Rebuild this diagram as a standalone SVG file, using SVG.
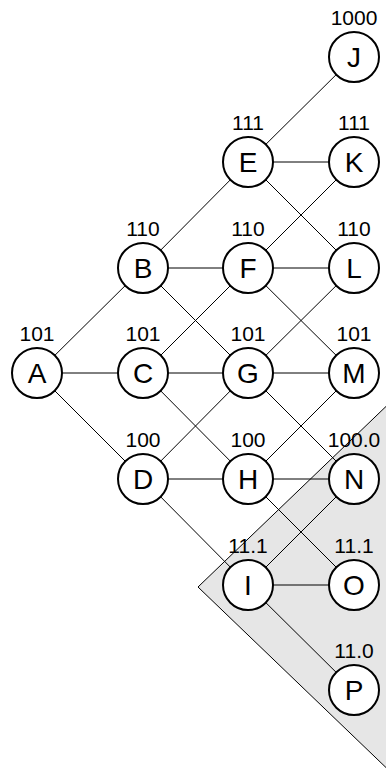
<svg xmlns="http://www.w3.org/2000/svg" width="386" height="770" viewBox="0 0 386 770">
<style>
.bg{fill:#fff}
.region{fill:#e6e6e6;stroke:#000;stroke-width:1}
.edge{stroke:#000;stroke-width:1;fill:none}
.node circle{fill:#fff;stroke:#000;stroke-width:2}
.lbl{font-family:"Liberation Sans",Arial,sans-serif;font-size:28px;text-anchor:middle;fill:#000}
.val{font-family:"Liberation Sans",Arial,sans-serif;font-size:21px;text-anchor:middle;fill:#000}
</style>
<rect class="bg" x="0" y="0" width="386" height="770"/>
<polygon class="region" points="198,587 400,393 400,781"/>
<g id="edges">
<line class="edge" x1="354" y1="57" x2="248" y2="162"/>
<line class="edge" x1="248" y1="162" x2="354" y2="162"/>
<line class="edge" x1="248" y1="162" x2="143" y2="268"/>
<line class="edge" x1="248" y1="162" x2="354" y2="268"/>
<line class="edge" x1="354" y1="162" x2="248" y2="268"/>
<line class="edge" x1="143" y1="268" x2="248" y2="268"/>
<line class="edge" x1="248" y1="268" x2="354" y2="268"/>
<line class="edge" x1="143" y1="268" x2="37" y2="373"/>
<line class="edge" x1="143" y1="268" x2="248" y2="373"/>
<line class="edge" x1="248" y1="268" x2="143" y2="373"/>
<line class="edge" x1="248" y1="268" x2="354" y2="373"/>
<line class="edge" x1="354" y1="268" x2="248" y2="373"/>
<line class="edge" x1="37" y1="373" x2="143" y2="373"/>
<line class="edge" x1="37" y1="373" x2="143" y2="479"/>
<line class="edge" x1="143" y1="373" x2="248" y2="373"/>
<line class="edge" x1="143" y1="373" x2="248" y2="479"/>
<line class="edge" x1="248" y1="373" x2="354" y2="373"/>
<line class="edge" x1="248" y1="373" x2="143" y2="479"/>
<line class="edge" x1="248" y1="373" x2="354" y2="479"/>
<line class="edge" x1="354" y1="373" x2="248" y2="479"/>
<line class="edge" x1="143" y1="479" x2="248" y2="479"/>
<line class="edge" x1="143" y1="479" x2="248" y2="585"/>
<line class="edge" x1="248" y1="479" x2="354" y2="479"/>
<line class="edge" x1="248" y1="479" x2="354" y2="585"/>
<line class="edge" x1="354" y1="479" x2="248" y2="585"/>
<line class="edge" x1="248" y1="585" x2="354" y2="585"/>
<line class="edge" x1="248" y1="585" x2="354" y2="690"/>
</g>
<g id="A" class="node"><circle cx="37" cy="373" r="25"/><text class="val" x="37" y="341">101</text><text class="lbl" x="37" y="383">A</text></g>
<g id="B" class="node"><circle cx="143" cy="268" r="25"/><text class="val" x="143" y="236">110</text><text class="lbl" x="143" y="278">B</text></g>
<g id="C" class="node"><circle cx="143" cy="373" r="25"/><text class="val" x="143" y="341">101</text><text class="lbl" x="143" y="383">C</text></g>
<g id="D" class="node"><circle cx="143" cy="479" r="25"/><text class="val" x="143" y="447">100</text><text class="lbl" x="143" y="489">D</text></g>
<g id="E" class="node"><circle cx="248" cy="162" r="25"/><text class="val" x="248" y="130">111</text><text class="lbl" x="248" y="172">E</text></g>
<g id="F" class="node"><circle cx="248" cy="268" r="25"/><text class="val" x="248" y="236">110</text><text class="lbl" x="248" y="278">F</text></g>
<g id="G" class="node"><circle cx="248" cy="373" r="25"/><text class="val" x="248" y="341">101</text><text class="lbl" x="248" y="383">G</text></g>
<g id="H" class="node"><circle cx="248" cy="479" r="25"/><text class="val" x="248" y="447">100</text><text class="lbl" x="248" y="489">H</text></g>
<g id="I" class="node"><circle cx="248" cy="585" r="25"/><text class="val" x="248" y="553">11.1</text><text class="lbl" x="248" y="595">I</text></g>
<g id="J" class="node"><circle cx="354" cy="57" r="25"/><text class="val" x="354" y="25">1000</text><text class="lbl" x="354" y="67">J</text></g>
<g id="K" class="node"><circle cx="354" cy="162" r="25"/><text class="val" x="354" y="130">111</text><text class="lbl" x="354" y="172">K</text></g>
<g id="L" class="node"><circle cx="354" cy="268" r="25"/><text class="val" x="354" y="236">110</text><text class="lbl" x="354" y="278">L</text></g>
<g id="M" class="node"><circle cx="354" cy="373" r="25"/><text class="val" x="354" y="341">101</text><text class="lbl" x="354" y="383">M</text></g>
<g id="N" class="node"><circle cx="354" cy="479" r="25"/><text class="val" x="354" y="447">100.0</text><text class="lbl" x="354" y="489">N</text></g>
<g id="O" class="node"><circle cx="354" cy="585" r="25"/><text class="val" x="354" y="553">11.1</text><text class="lbl" x="354" y="595">O</text></g>
<g id="P" class="node"><circle cx="354" cy="690" r="25"/><text class="val" x="354" y="658">11.0</text><text class="lbl" x="354" y="700">P</text></g>
</svg>
